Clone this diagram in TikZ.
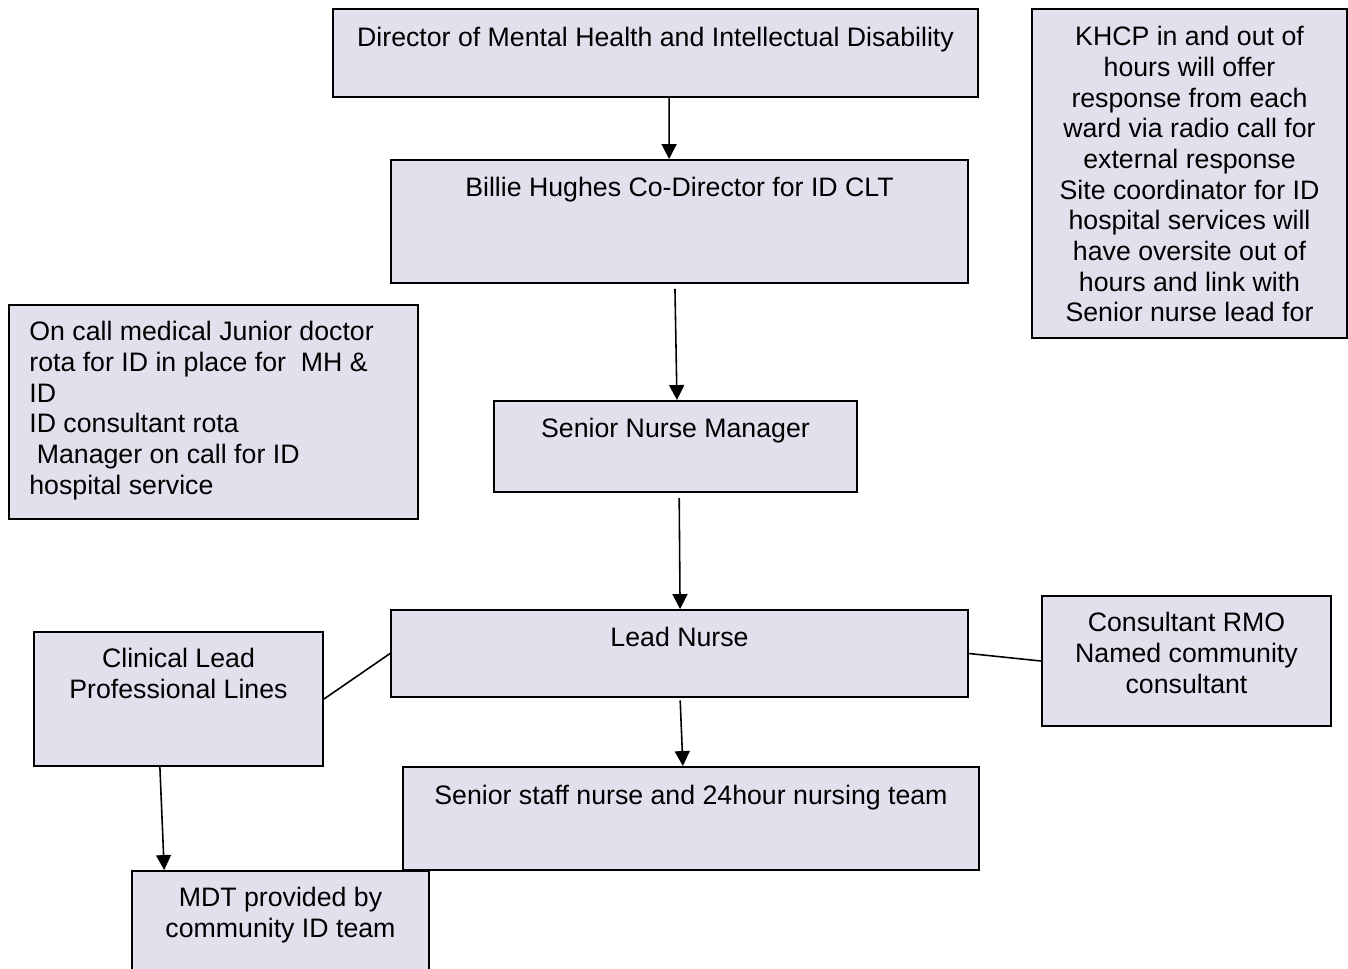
\documentclass[tikz,border=0pt]{standalone}
\usepackage{fontspec}
\setmainfont{Liberation Sans}
\usetikzlibrary{positioning,fit,calc,arrows.meta}
\definecolor{boxfill}{HTML}{E4DFEC}

\begin{document}
\begin{tikzpicture}[x=0.02cm,y=-0.02cm,>={Triangle[length=0.3cm,width=0.3cm]},
    box/.style={draw,line width=1.1pt,fill=boxfill,inner sep=0pt},
    txt/.style={inner sep=0pt,align=center,font=\fontsize{15.2}{17.45}\selectfont,execute at begin node=\strut},
    arr/.style={->,line width=0.9pt}]
  \useasboundingbox (0,0) rectangle (1348,968);
  % boxes
  \node[box,fit={(333,9) (978,97)}] (dir) {};
  \node[box,fit={(1032,9) (1347,338)}] (khcp) {};
  \node[box,fit={(391,160) (968,283)}] (billie) {};
  \node[box,fit={(9,305) (418,519)}] (oncall) {};
  \node[box,fit={(494,401) (857,492)}] (snm) {};
  \node[box,fit={(391,610) (968,697)}] (lead) {};
  \node[box,fit={(34,632) (323,766)}] (clin) {};
  \node[box,fit={(1042,596) (1331,726)}] (cons) {};
  \node[box,fit={(403,767) (979,870)}] (staff) {};
  \node[box,fit={(132,871) (429,980)}] (mdt) {};
  % texts
  \node[txt,below=0.33cm of dir.north] (dir-t) {Director of Mental Health and Intellectual Disability};
  \node[txt,below=0.36cm of khcp.north] (khcp-t) {KHCP in and out of\\hours will offer\\response from each\\ward via radio call for\\external response\\Site coordinator for ID\\hospital services will\\have oversite out of\\hours and link with\\Senior nurse lead for};
  \node[txt,below=0.31cm of billie.north] (billie-t) {Billie Hughes Co-Director for ID CLT};
  \node[txt,align=left,below right=0.34cm and 0.42cm of oncall.north west] (oncall-t) {On call medical Junior doctor\\rota for ID in place for~ MH \&\\ID\\ID consultant rota\\\hspace*{.28em}Manager on call for ID\\hospital service};
  \node[txt,below=0.31cm of snm.north] (snm-t) {Senior Nurse Manager};
  \node[txt,below=0.31cm of lead.north] (lead-t) {Lead Nurse};
  \node[txt,below=0.34cm of clin.north] (clin-t) {Clinical Lead\\Professional Lines};
  \node[txt,below=0.34cm of cons.north] (cons-t) {Consultant RMO\\Named community\\consultant};
  \node[txt,below=0.33cm of staff.north] (staff-t) {Senior staff nurse and 24hour nursing team};
  \node[txt,below=0.34cm of mdt.north] (mdt-t) {MDT provided by\\community ID team};
  % connectors
  \draw[arr] ($(dir.south west)!0.521!(dir.south east)$) -- ($(billie.north west)!0.482!(billie.north east)$);
  \draw[arr,shorten <=0.1cm] ($(billie.south west)!0.492!(billie.south east)$) -- ($(snm.north west)!0.504!(snm.north east)$);
  \draw[arr,shorten <=0.1cm] ($(snm.south west)!0.510!(snm.south east)$) -- ($(lead.north west)!0.501!(lead.north east)$);
  \draw[arr,shorten <=0.05cm] ($(lead.south west)!0.501!(lead.south east)$) -- ($(staff.north west)!0.486!(staff.north east)$);
  \draw[arr] ($(clin.south west)!0.436!(clin.south east)$) -- ($(mdt.north west)!0.111!(mdt.north east)$);
  \draw[line width=0.9pt] (clin.east) -- (lead.west);
  \draw[line width=0.9pt] (lead.east) -- (cons.west);
\end{tikzpicture}
\end{document}
